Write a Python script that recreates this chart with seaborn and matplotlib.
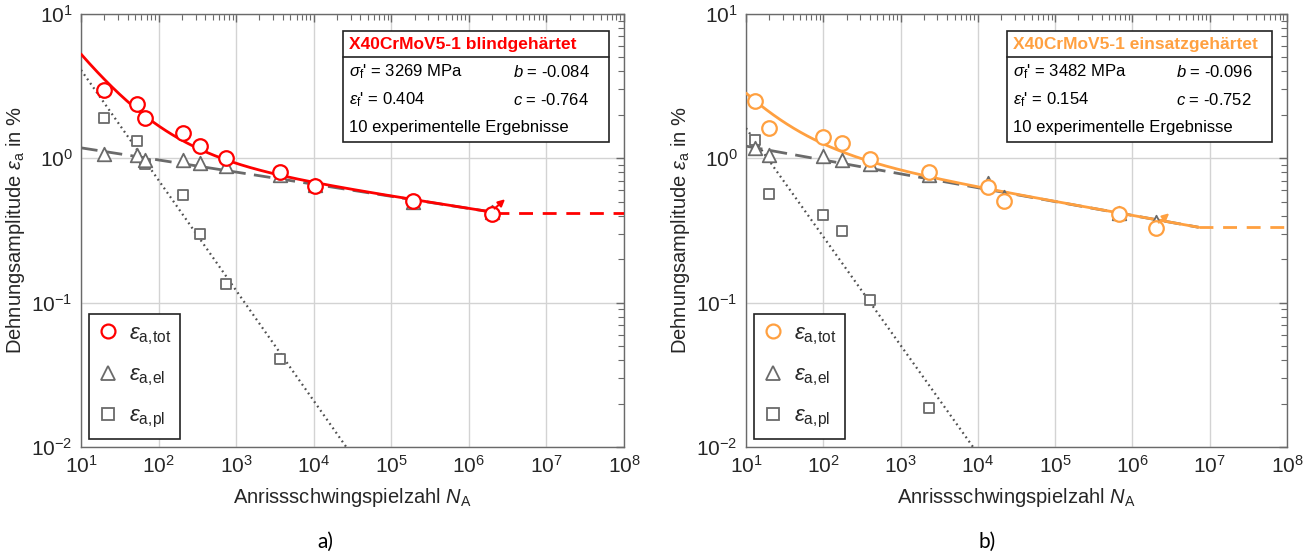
import numpy as np
import pandas as pd
import matplotlib
matplotlib.use("Agg")
import matplotlib.pyplot as plt
from matplotlib.lines import Line2D
from matplotlib.patches import Rectangle
import matplotlib.ticker as mticker
import seaborn as sns

# ---------------- data ----------------
# a) X40CrMoV5-1 blindgehaertet
N_blind = [20, 52, 66, 205, 337, 750, 3650, 10350, 190000, 1980000]
tot_blind = [2.97, 2.37, 1.89, 1.51, 1.22, 1.00, 0.80, 0.643, 0.509, 0.409]
el_blind = [1.08, 1.06, 0.98, 0.97, 0.93, 0.89, 0.77, 0.65, 0.50, 0.425]
N_pl_blind = [20, 52, 66, 205, 337, 750, 3650]
pl_blind = [1.91, 1.32, 0.92, 0.56, 0.297, 0.135, 0.041]
sigf_blind, b_blind, epsf_blind, c_blind = 3269, -0.084, 0.404, -0.764
Nend_blind = 2.2e6

# b) X40CrMoV5-1 einsatzgehaertet
N_eins = [13, 20, 100, 175, 404, 2320, 13400, 22000, 670000, 2020000]
tot_eins = [2.51, 1.61, 1.41, 1.27, 0.99, 0.80, 0.637, 0.509, 0.409, 0.327]
el_eins = [1.17, 1.05, 1.04, 0.98, 0.91, 0.77, 0.68, 0.54, 0.416, 0.364]
N_pl_eins = [13, 20, 100, 175, 404, 2320]
pl_eins = [1.35, 0.566, 0.405, 0.314, 0.105, 0.0185]
sigf_eins, b_eins, epsf_eins, c_eins = 3482, -0.096, 0.154, -0.752
Nend_eins = 7.2e6

E_MOD = 215000.0  # MPa

titles = ["X40CrMoV5-1 blindgehärtet", "X40CrMoV5-1 einsatzgehärtet"]
colors = ["#FF0000", "#FFA040"]
panel_labels = ["a)", "b)"]
xlabel = "Anrissschwingspielzahl $N_{\\mathrm{A}}$"
ylabel = "Dehnungsamplitude $\\varepsilon_{\\mathrm{a}}$ in %"
xticks = [1e1, 1e2, 1e3, 1e4, 1e5, 1e6, 1e7, 1e8]
yticks = [1e-2, 1e-1, 1e0, 1e1]
legend_labels = ["$\\varepsilon_{\\mathrm{a,\\!tot}}$", "$\\varepsilon_{\\mathrm{a,\\!el}}$",
                 "$\\varepsilon_{\\mathrm{a,\\!pl}}$"]

# ---------------- style ----------------
sns.set_theme(style="white")
plt.rcParams["font.family"] = ["Liberation Sans", "DejaVu Sans"]
plt.rcParams["mathtext.fontset"] = "custom"
plt.rcParams["mathtext.rm"] = "Liberation Sans"
plt.rcParams["mathtext.it"] = "Liberation Sans:italic"
plt.rcParams["mathtext.bf"] = "Liberation Sans:bold"

TXT = "#262626"
SPINE = "#6a6a6a"
GRAY = "#6a6a6a"

fig = plt.figure(figsize=(13.11, 5.57), dpi=100)
W, H = 1311, 557
ax_l = fig.add_axes([81 / W, 110 / H, 543 / W, 433 / H])
ax_r = fig.add_axes([746 / W, 110 / H, 541 / W, 433 / H])


def panel(ax, N, tot, el, Npl, pl, sigf, b, epsf, c, Nend, color, title, plabel, xc):
    ax.set_xscale("log")
    ax.set_yscale("log")
    ax.set_xlim(1e1, 1e8)
    ax.set_ylim(1e-2, 1e1)

    # model curves from the displayed parameters
    Ng = np.geomspace(10, Nend, 400)
    el_c = 100 * sigf / E_MOD * (2 * Ng) ** b
    pl_c = 100 * epsf * (2 * Ng) ** c
    Np = np.geomspace(10, 1e6, 400)
    pl_c2 = 100 * epsf * (2 * Np) ** c
    tot_end = 100 * sigf / E_MOD * (2 * Nend) ** b + 100 * epsf * (2 * Nend) ** c

    sns.lineplot(x=Np, y=pl_c2, ax=ax, color="#505050", lw=1.6, zorder=3)
    ax.lines[-1].set_linestyle((0, (0.8, 1.6)))
    sns.lineplot(x=Ng, y=el_c, ax=ax, color=GRAY, lw=2.0, zorder=3)
    ax.lines[-1].set_linestyle((0, (6, 3)))
    sns.lineplot(x=Ng, y=el_c + pl_c, ax=ax, color=color, lw=2.0, zorder=5)
    sns.lineplot(x=[Nend, 1e8], y=[tot_end, tot_end], ax=ax, color=color, lw=2.0, zorder=5)
    ax.lines[-1].set_linestyle((0, (5, 3.5)))

    sns.scatterplot(x=Npl, y=pl, ax=ax, marker="s", s=55, color="white",
                    edgecolor=GRAY, linewidth=1.3, zorder=6)
    sns.scatterplot(x=N, y=el, ax=ax, marker="^", s=95, color="white",
                    edgecolor=GRAY, linewidth=1.3, zorder=7)
    sns.scatterplot(x=N, y=tot, ax=ax, marker="o", s=110, color="white",
                    edgecolor=color, linewidth=1.6, zorder=8)

    # runout arrow at last point
    xl, yl = N[-1], tot[-1]
    ax.annotate("", xy=(xl * 10 ** 0.17, yl * 10 ** 0.105),
                xytext=(xl * 10 ** 0.035, yl * 10 ** 0.04),
                arrowprops=dict(arrowstyle="-|>", color=color, lw=1.5,
                                mutation_scale=10, shrinkA=0, shrinkB=0),
                zorder=9)

    # axes styling
    ax.grid(True, which="major", color="#d3d3d3", lw=1.0)
    ax.set_axisbelow(True)
    for sp in ax.spines.values():
        sp.set_color(SPINE)
        sp.set_linewidth(1.0)
    ax.xaxis.set_major_locator(mticker.FixedLocator(xticks))
    ax.yaxis.set_major_locator(mticker.FixedLocator(yticks))
    ax.xaxis.set_minor_locator(mticker.LogLocator(base=10, subs=np.arange(2, 10), numticks=20))
    ax.yaxis.set_minor_locator(mticker.LogLocator(base=10, subs=np.arange(2, 10), numticks=20))
    ax.xaxis.set_minor_formatter(mticker.NullFormatter())
    ax.yaxis.set_minor_formatter(mticker.NullFormatter())
    ax.tick_params(which="both", direction="in", top=True, right=True,
                   color=SPINE, labelcolor=TXT, labelsize=15)
    ax.tick_params(which="major", length=6, width=1.0, pad=6)
    ax.tick_params(which="minor", length=4, width=0.8)
    ax.set_xlabel(xlabel, fontsize=14.5, color=TXT, labelpad=6)
    ax.set_ylabel(ylabel, fontsize=14.5, color=TXT, labelpad=3)

    # parameter box
    x0, x1, y0, y1, ysep = 0.4825, 0.973, 0.704, 0.9607, 0.9007
    ax.add_patch(Rectangle((x0, y0), x1 - x0, y1 - y0, transform=ax.transAxes,
                           facecolor="white", edgecolor="#222222", lw=1.2, zorder=10))
    ax.plot([x0, x1], [ysep, ysep], transform=ax.transAxes, color="#222222", lw=1.2, zorder=11)
    tx, bx = x0 + 0.011, x0 + 0.313
    ax.text(tx, 0.929, title, transform=ax.transAxes, color=color, fontsize=12.5,
            fontweight="bold", va="center", ha="left", zorder=12)
    ax.text(tx, 0.866, "$\\sigma_{\\mathrm{f}}$' = %d MPa" % sigf, transform=ax.transAxes,
            fontsize=12, va="center", ha="left", color="black", zorder=12)
    ax.text(bx, 0.866, "$b$ = %.3f" % b, transform=ax.transAxes,
            fontsize=12, va="center", ha="left", color="black", zorder=12)
    ax.text(tx, 0.802, "$\\varepsilon_{\\mathrm{f}}$' = %.3f" % epsf, transform=ax.transAxes,
            fontsize=12, va="center", ha="left", color="black", zorder=12)
    ax.text(bx, 0.802, "$c$ = %.3f" % c, transform=ax.transAxes,
            fontsize=12, va="center", ha="left", color="black", zorder=12)
    ax.text(tx, 0.738, "%d experimentelle Ergebnisse" % len(N), transform=ax.transAxes,
            fontsize=12, va="center", ha="left", color="black", zorder=12)

    # legend
    handles = [
        Line2D([], [], ls="none", marker="o", ms=10, mfc="white", mec=color, mew=1.6),
        Line2D([], [], ls="none", marker="^", ms=10.5, mfc="white", mec=GRAY, mew=1.3),
        Line2D([], [], ls="none", marker="s", ms=8, mfc="white", mec=GRAY, mew=1.3),
    ]
    leg = ax.legend(handles, legend_labels, loc="lower left", fontsize=16, frameon=True,
                    fancybox=False, edgecolor="#222222", framealpha=1,
                    borderaxespad=0.35, borderpad=0.4, handlelength=0.9,
                    handletextpad=0.5, labelspacing=0.8)
    leg.get_frame().set_linewidth(1.2)
    leg.set_zorder(12)

    fig.text(xc / W, 1 - 542 / H, plabel, fontsize=15, family=["Lato", "DejaVu Sans"],
             ha="center", va="center", color="black")


panel(ax_l, N_blind, tot_blind, el_blind, N_pl_blind, pl_blind,
      sigf_blind, b_blind, epsf_blind, c_blind, Nend_blind, colors[0], titles[0], panel_labels[0], 325)
panel(ax_r, N_eins, tot_eins, el_eins, N_pl_eins, pl_eins,
      sigf_eins, b_eins, epsf_eins, c_eins, Nend_eins, colors[1], titles[1], panel_labels[1], 987)

fig.savefig("out.png", dpi=100, facecolor="white")
